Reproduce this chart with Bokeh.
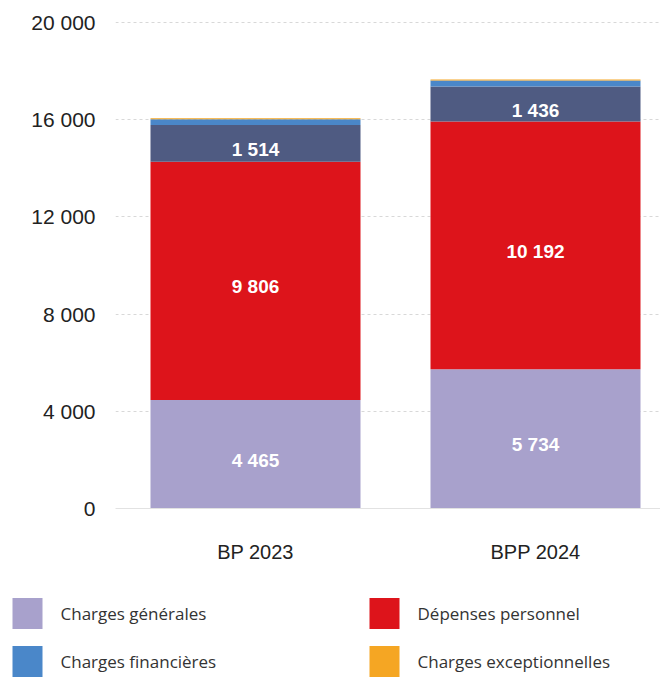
from bokeh.plotting import figure
from bokeh.models import ColumnDataSource, FixedTicker, Range1d
from bokeh.layouts import column
from bokeh.core.properties import value
from bokeh.embed import file_html
from bokeh.resources import INLINE

# ---- data ----
categories = ["BP 2023", "BPP 2024"]
charges_generales = [4465, 5734]
depenses_personnel = [9806, 10192]
autres_charges = [1514, 1436]
charges_financieres = [230, 250]
charges_exceptionnelles = [45, 45]

series_names = ["Charges générales", "Dépenses personnel", "Autres charges",
                "Charges financières", "Charges exceptionnelles"]
series_colors = ["#a8a1cc", "#dd141b", "#4f5b82", "#4a87c9", "#f5a623"]

label_values = [charges_generales, depenses_personnel, autres_charges]

y_ticks = [0, 4000, 8000, 12000, 16000, 20000]
y_tick_labels = ["0", "4 000", "8 000", "12 000", "16 000", "20 000"]

legend_names = ["Charges générales", "Dépenses personnel",
                "Charges financières", "Charges exceptionnelles"]
legend_colors = ["#a8a1cc", "#dd141b", "#4a87c9", "#f5a623"]

# ---- main chart ----
xs = [i + 0.5 for i in range(len(categories))]
keys = ["s%d" % i for i in range(len(series_names))]
data = {"x": xs}
for k, vals in zip(keys, [charges_generales, depenses_personnel, autres_charges,
                          charges_financieres, charges_exceptionnelles]):
    data[k] = vals
source = ColumnDataSource(data)

W = 660
LEFT = 115
p = figure(width=W, height=580, output_backend="svg", toolbar_location=None,
           x_range=Range1d(0, (W - LEFT) / 280.0), y_range=Range1d(0, 20330),
           min_border_left=LEFT, min_border_right=0, min_border_top=14,
           min_border_bottom=72)
p.frame_align = False
p.outline_line_color = None
p.background_fill_color = "white"

p.vbar_stack(keys, x="x", width=0.75, source=source, color=series_colors,
             line_color=None)

# value labels (centered in segments)
lx, ly, lt = [], [], []
for i in range(len(categories)):
    base = 0
    for vals in label_values:
        v = vals[i]
        lx.append(xs[i])
        ly.append(base + v / 2.0)
        lt.append(f"{v:,}".replace(",", " "))
        base += v
p.text(x=lx, y=ly, text=lt, text_align="center", text_baseline="middle",
       y_offset=6, text_color="white", text_font=value("Liberation Sans"),
       text_font_size="19px", text_font_style="bold")

p.yaxis.ticker = FixedTicker(ticks=y_ticks)
p.yaxis.major_label_overrides = {t: l for t, l in zip(y_ticks, y_tick_labels)}
p.yaxis.axis_line_color = None
p.yaxis.major_tick_line_color = None
p.yaxis.minor_tick_line_color = None
p.yaxis.major_label_standoff = 14
p.yaxis.major_label_text_font = "Liberation Sans"
p.yaxis.major_label_text_font_size = "21px"
p.yaxis.major_label_text_color = "#222222"

p.xaxis.ticker = FixedTicker(ticks=xs)
p.xaxis.major_label_overrides = {x: c for x, c in zip(xs, categories)}
p.xaxis.axis_line_color = "#e2e2e2"
p.xaxis.major_tick_line_color = None
p.xaxis.minor_tick_line_color = None
p.xaxis.major_label_standoff = 26
p.xaxis.major_label_text_font = "Liberation Sans"
p.xaxis.major_label_text_font_size = "20px"
p.xaxis.major_label_text_color = "#222222"

p.xgrid.grid_line_color = None
p.ygrid.grid_line_color = "#d8d8d8"
p.ygrid.grid_line_dash = "3 3"

# ---- legend ----
LH = 97
lg = figure(width=W, height=LH, output_backend="svg", toolbar_location=None,
            x_range=Range1d(0, W), y_range=Range1d(LH, 0),
            min_border=0, min_border_left=0, min_border_right=0,
            min_border_top=0, min_border_bottom=0)
lg.frame_align = False
lg.axis.visible = False
lg.grid.visible = False
lg.outline_line_color = None

col_x = [27, 384]
row_y = [33, 81]
sq_x, sq_y, tx, ty = [], [], [], []
for i in range(len(legend_names)):
    c, r = i % 2, i // 2
    sq_x.append(col_x[c]); sq_y.append(row_y[r])
    tx.append(col_x[c] + 33); ty.append(row_y[r])
lg.rect(x=sq_x, y=sq_y, width=30, height=31, width_units="screen",
        height_units="screen", fill_color=legend_colors, line_color=None)
lg.text(x=tx, y=ty, text=legend_names, text_align="left", text_baseline="middle",
        text_font=value("Open Sans"), text_font_size="17px", text_color="#333333")

layout = column(p, lg, spacing=0)
open("out.html", "w").write(file_html(layout, INLINE))
